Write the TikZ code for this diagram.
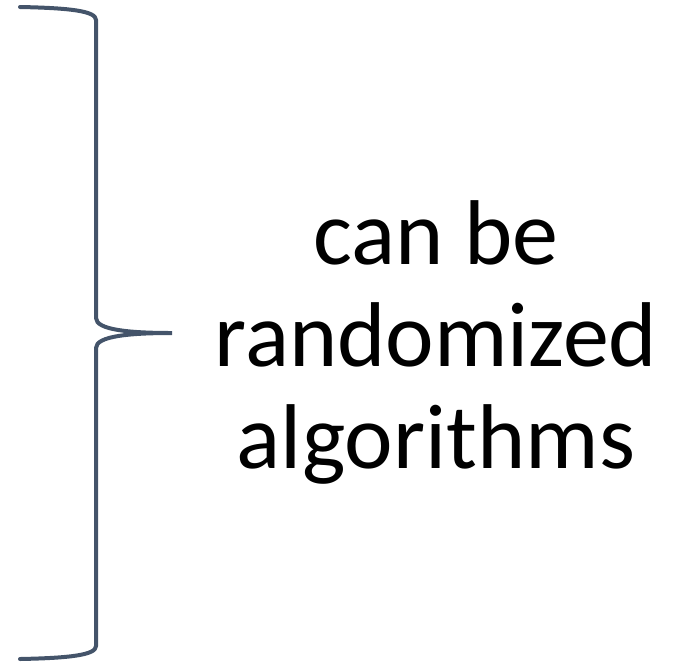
\documentclass[tikz,border=0pt]{standalone}
\usepackage{fontspec}
\setmainfont{Carlito}
\definecolor{braceblue}{HTML}{44546A}
\begin{document}
\begin{tikzpicture}[x=1pt,y=-1pt]
    \useasboundingbox (0,0) rectangle (687,662);
    % brace
    \draw[braceblue, line width=4pt, line cap=round]
      (20,7) .. controls (70,8) and (96,11) .. (96,20)
      -- (96,318) .. controls (96,330) and (130,333) .. (172,333)
      .. controls (130,333) and (96,336) .. (96,348)
      -- (96,646) .. controls (96,655) and (70,658) .. (20,659);
    \coordinate (tip) at (172,333);
    \node[align=center, font=\fontsize{92}{102}\selectfont, inner sep=0pt]
      (label) at (436,342) {can be\\randomized\\algorithms};
  \end{tikzpicture}
\end{document}
